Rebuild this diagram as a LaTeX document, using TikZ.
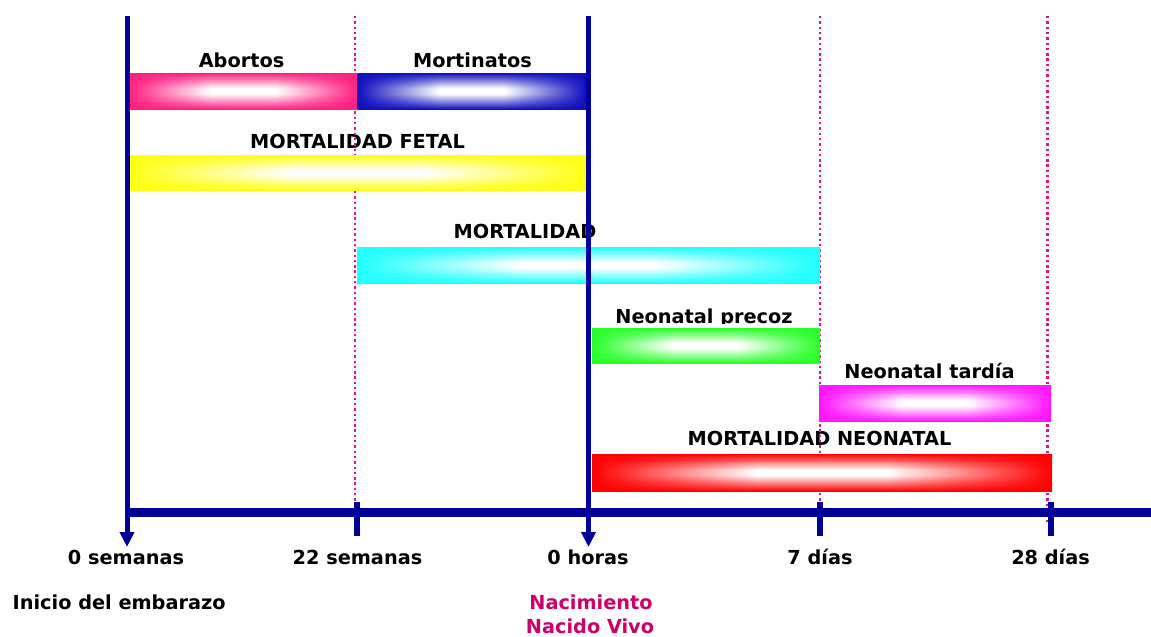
\documentclass[tikz,border=0pt]{standalone}
\usepackage{fontspec}
\setmainfont{DejaVu Sans}
\usetikzlibrary{arrows.meta}
\definecolor{navy}{RGB}{0,0,153}
\definecolor{dotc}{RGB}{228,20,130}
\definecolor{birthc}{RGB}{204,0,102}
\definecolor{pinkc}{RGB}{255,30,128}
\definecolor{bluec}{RGB}{15,15,190}
\definecolor{yellowc}{RGB}{255,255,20}
\definecolor{cyanc}{RGB}{30,255,255}
\definecolor{greenc}{RGB}{40,255,40}
\definecolor{magc}{RGB}{255,20,255}
\definecolor{redc}{RGB}{255,0,0}
\colorlet{barc}{red}
\pgfdeclarefunctionalshading[barc]{boxsh}{\pgfpointorigin}{\pgfpoint{100bp}{100bp}}
{\pgfshadecolortorgb{barc}{\bc}}
{50 sub abs 25 div 0.15 sub 0.85 div dup 0 lt {pop 0} if dup 1 gt {pop 1} if
 exch 50 sub abs 25 div 0.28 sub 0.72 div dup 0 lt {pop 0} if dup 1 gt {pop 1} if
 1 exch sub exch 1 exch sub mul 1 exch sub
 dup \bcred\space 1 sub mul 1 add
 exch dup \bcgreen\space 1 sub mul 1 add
 exch \bcblue\space 1 sub mul 1 add}
\tikzset{
  lbl/.style={anchor=base, inner sep=0pt, font=\bfseries\fontsize{19.3}{23}\selectfont},
  bar/.style={/utils/exec={\colorlet{barc}{#1}}, shading=boxsh},
  mainline/.style={draw=navy, line width=5pt, -{Triangle[width=14pt,length=15pt]}},
  tickmark/.style={draw=navy, line width=6pt},
  axisline/.style={draw=navy, line width=9pt},
  guide/.style={draw=dotc, line width=2.4pt, dash pattern=on 2.4pt off 2.9pt}
}
\begin{document}
\begin{tikzpicture}[x=1pt,y=-1pt]
\fill[white] (0,0) rectangle (1151,637);
\useasboundingbox (0,0) rectangle (1151,637);

% labels above bars
\node[lbl] (tabortos) at (241.5,67) {Abortos};
\node[lbl] (tmortinatos) at (472.5,67) {Mortinatos};
\node[lbl] (tfetal) at (357.5,148) {MORTALIDAD FETAL};
\node[lbl] (tmort) at (525,238) {MORTALIDAD};
\begin{scope}
  \clip (600,290) rectangle (810,323.8);
  \node[lbl] (tprecoz) at (704,323) {Neonatal precoz};
\end{scope}
\node[lbl] (ttardia) at (929.5,378) {Neonatal tardía};
\node[lbl] (tneonatal) at (819.5,445.5) {MORTALIDAD NEONATAL};

% dotted guides
\coordinate (g22t) at (355,16);   \coordinate (g22b) at (355,524);
\coordinate (g7t) at (820,16);    \coordinate (g7b) at (820,524);
\coordinate (g28t) at (1047.5,16);\coordinate (g28b) at (1047.5,524);
\draw[guide] (g22t) -- (g22b);
\draw[guide] (g7t) -- (g7b);
\draw[guide] (g28t) -- (g28b);

% bars
\path[bar=pinkc]   (129,73)   rectangle (357.5,109);
\path[bar=bluec]   (357.5,73) rectangle (586,109);
\path[bar=yellowc] (129,155)  rectangle (586,190);
\path[bar=cyanc]   (357,247)  rectangle (820,283);
\path[bar=greenc]  (592,328)  rectangle (820,363);
\path[bar=magc]    (819,385)  rectangle (1051,421);
\path[bar=redc]    (592,454)  rectangle (1052,491);

% axis
\coordinate (ax0) at (127,512.5);
\coordinate (ax1) at (1151,512.5);
\draw[axisline] (ax0) -- (ax1);
\coordinate (t22a) at (357,502);   \coordinate (t22b) at (357,536);
\coordinate (t7a) at (820,502);    \coordinate (t7b) at (820,536);
\coordinate (t28a) at (1050.5,502);\coordinate (t28b) at (1050.5,536);
\draw[tickmark] (t22a) -- (t22b);
\draw[tickmark] (t7a) -- (t7b);
\draw[tickmark] (t28a) -- (t28b);

% main vertical lines
\coordinate (v0t) at (127,16);   \coordinate (v0b) at (127,547);
\coordinate (vht) at (588.5,16); \coordinate (vhb) at (588.5,547);
\draw[mainline] (v0t) -- (v0b);
\draw[mainline] (vht) -- (vhb);

% bottom labels
\node[lbl] (l0s) at (126,564) {0 semanas};
\node[lbl] (l22s) at (357.5,564) {22 semanas};
\node[lbl] (l0h) at (588,564) {0 horas};
\node[lbl] (l7d) at (820,564) {7 días};
\node[lbl] (l28d) at (1050.5,564) {28 días};
\node[lbl, anchor=base west] (linicio) at (12.5,609) {Inicio del embarazo};
\node[lbl, text=birthc] (lnac) at (591,609) {Nacimiento};
\node[lbl, text=birthc] (lviv) at (590,633) {Nacido Vivo};
\end{tikzpicture}
\end{document}
